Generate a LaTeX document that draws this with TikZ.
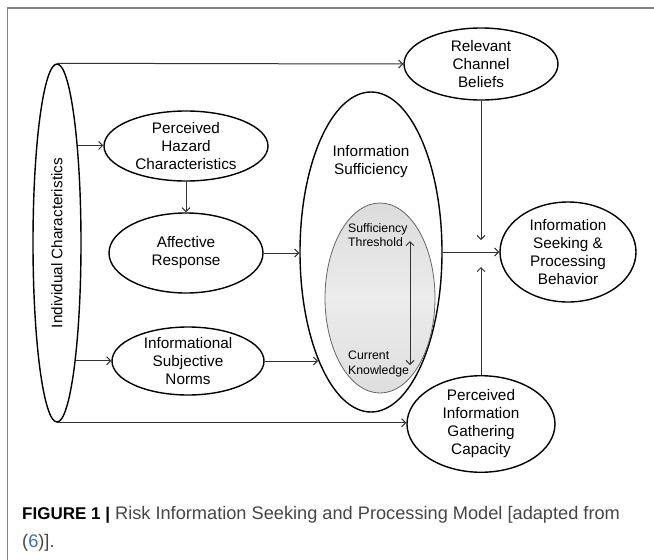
\documentclass[tikz,border=0pt]{standalone}
\usepackage{fontspec}
\setmainfont{Liberation Sans}
\usetikzlibrary{shapes.geometric,arrows.meta}
\definecolor{framegray}{RGB}{130,130,130}
\definecolor{capgray}{RGB}{70,70,70}
\definecolor{linkblue}{RGB}{60,110,180}
\tikzset{
  oval/.style={ellipse, draw=black, line width=1.4pt, inner sep=0pt, align=center,
    font=\fontsize{15.3}{18}\selectfont, text=black},
  arr/.style={draw=black!80, line width=1pt, -{Straight Barb[length=4pt,width=8pt]}},
  darr/.style={draw=black!80, line width=1pt, {Straight Barb[length=4pt,width=8pt]}-{Straight Barb[length=4pt,width=8pt]}},
  smalltxt/.style={align=left, inner sep=0pt, font=\fontsize{12.3}{14.5}\selectfont, text=black},
}
\begin{document}
\begin{tikzpicture}[x=1pt,y=-1pt]
\useasboundingbox (0,0) rectangle (654,560);
\fill[white] (0,0) rectangle (654,560);
% frame
\draw[framegray, line width=1.6pt] (7.5,560) -- (7.5,8) -- (654,8);

% nodes
\node[oval, minimum width=48pt, minimum height=358pt] (ind) at (57,243) {};
\node[rotate=90, font=\fontsize{15.3}{18}\selectfont, text=black] (indtxt) at (57,243) {Individual Characteristics};
\node[oval, minimum width=154pt, minimum height=72pt] (rel) at (481,64) {Relevant\\Channel\\Beliefs};
\node[oval, minimum width=164pt, minimum height=70pt] (phc) at (186,146) {Perceived\\Hazard\\Characteristics};
\node[oval, minimum width=154pt, minimum height=80pt] (aff) at (186,253) {Affective\\Response};
\node[oval, minimum width=152pt, minimum height=68pt] (isn) at (188,361) {Informational\\Subjective\\Norms};
\node[ellipse, draw=black, line width=1.4pt, inner sep=0pt, minimum width=142pt, minimum height=320pt] (is) at (371,252) {};
\node[align=center, font=\fontsize{15.3}{18}\selectfont, text=black] (istxt) at (371,162) {Information\\Sufficiency};
\node[ellipse, draw=black!60, line width=0.8pt, inner sep=0pt, minimum width=110pt, minimum height=190pt,
      top color=gray!28, bottom color=gray!26, middle color=gray!15] (inner) at (380,298) {};
\node[smalltxt, anchor=west] (st) at (348,235) {Sufficiency\\Threshold};
\node[smalltxt, anchor=west] (ck) at (348,364) {Current\\Knowledge};
\node[oval, minimum width=136pt, minimum height=100pt] (ispb) at (568,252) {Information\\Seeking \&\\Processing\\Behavior};
\node[oval, minimum width=148pt, minimum height=74pt] (pigc) at (481,424) {Perceived\\Information\\Gathering\\Capacity};

\coordinate (jtop) at (481,240);
\coordinate (jbot) at (481,267);
\coordinate (dtop) at (410,241);
\coordinate (dbot) at (410,365);

% connectors
\draw[arr] (ind.north) -- (rel.west);
\draw[arr] (ind.south) -- (ind.south -| pigc.west);
\draw[arr] (ind.78.2) -- (ind.78.2 -| phc.west);
\draw[arr] (ind.-81.3) -- (ind.-81.3 -| isn.west);
\draw[arr] (phc.south) -- (aff.north);
\draw[arr] (aff.east) -- (aff.east -| is.west);
\draw[arr] (isn.east) -- (isn.east -| is.244.5);
\draw[arr] (is.east) -- (ispb.west);
\draw[arr] (rel.south) -- (jtop);
\draw[arr] (pigc.north) -- (jbot);
\draw[darr] (dtop) -- (dbot);

% caption
\node[anchor=west, inner sep=0pt, font=\fontsize{18.2}{28}\selectfont, text=capgray, align=left] (cap) at (22,529)
  {\textcolor{black}{\fontsize{17}{28}\selectfont\textbf{FIGURE 1 |}} Risk Information Seeking and Processing Model [adapted from\\(\textcolor{linkblue}{6})].};
\end{tikzpicture}
\end{document}
